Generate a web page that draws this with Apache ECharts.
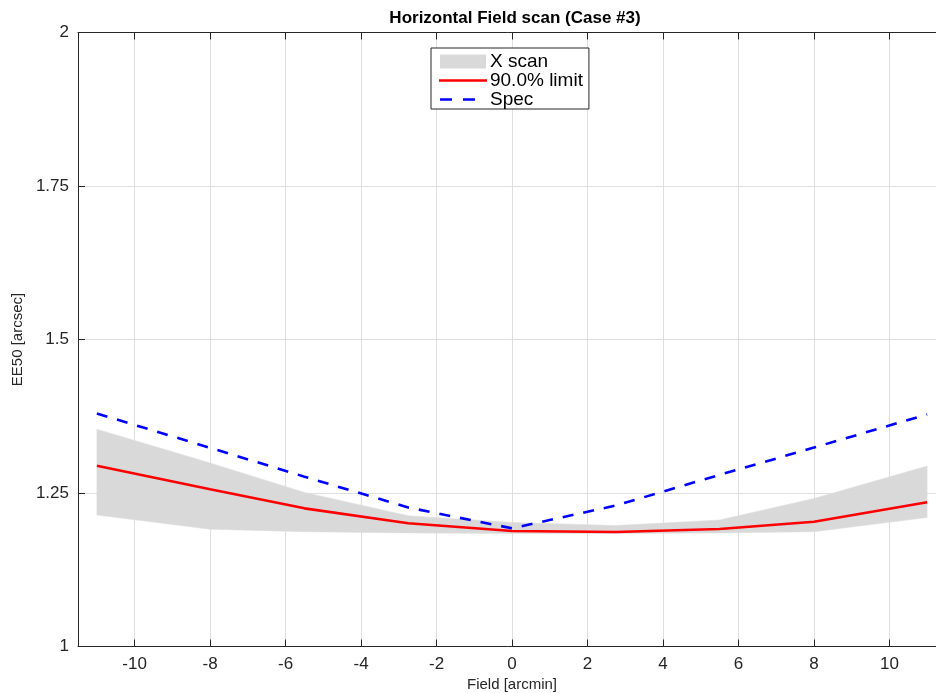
<!DOCTYPE html>
<html>
<head>
<meta charset="utf-8">
<script src="https://cdn.jsdelivr.net/npm/echarts@6/dist/echarts.min.js"></script>
<style>
  html, body { margin: 0; padding: 0; background: #fff; }
  #chart { width: 936px; height: 693px; }
</style>
</head>
<body>
<div id="chart"></div>
<script>
// field positions [arcmin]
const fieldX = [-11, -8, -5.5, -2.75, 0, 2.75, 5.5, 8, 11];
// EE50 values [arcsec]
const scanLow = [1.214, 1.191, 1.187, 1.185, 1.184, 1.184, 1.185, 1.187, 1.210];
const scanHigh = [1.354, 1.299, 1.251, 1.213, 1.202, 1.197, 1.206, 1.241, 1.294];
const limit90 = [1.2945, 1.256, 1.225, 1.2007, 1.188, 1.1865, 1.1914, 1.2033, 1.235];
const spec = [1.3795, 1.3236, 1.2766, 1.2264, 1.1925, 1.2296, 1.2795, 1.324, 1.378];
const xTicks = [-10, -8, -6, -4, -2, 0, 2, 4, 6, 8, 10];

const font = "'Liberation Sans', Arial, Helvetica, sans-serif";
const ink = '#262626';
const gridColor = '#dedede';

// legend glyphs: a thin bar (solid / dashed) inside a 48x14 box
const solidIcon = 'path://M0,0h0.01v0.01h-0.01z M0,5.7H48V8.3H0Z M0,14h0.01v0.01h-0.01z';
const dashIcon = 'path://M0,0h0.01v0.01h-0.01z M1,5.7H13V8.3H1Z M24,5.7H36V8.3H24Z M0,14h0.01v0.01h-0.01z M48,14h0.01v0.01h-0.01z';

const pairs = (ys) => fieldX.map((x, i) => [x, ys[i]]);

let chart = echarts.init(document.getElementById('chart'));

// shaded band between scanLow and scanHigh, drawn as one polygon
const renderBand = (params, api) => {
  if (params.dataIndex !== 0) return;
  let pts = [];
  fieldX.forEach((x, i) => pts.push(api.coord([x, scanHigh[i]])));
  for (let i = fieldX.length - 1; i >= 0; i--) {
    pts.push(api.coord([fieldX[i], scanLow[i]]));
  }
  return {
    type: 'polygon',
    shape: { points: pts },
    style: { fill: '#d9d9d9', stroke: '#dcdcdc', lineWidth: 0.5 }
  };
};

let option = {
  animation: false,
  textStyle: { fontFamily: font },
  title: {
    text: 'Horizontal Field scan (Case #3)',
    left: 510,
    textAlign: 'center',
    top: 5,
    textStyle: { fontSize: 17, fontWeight: 'bold', color: '#000', fontFamily: font }
  },
  legend: {
    orient: 'vertical',
    left: 431,
    top: 48,
    padding: [4, 6, 0, 8],
    itemGap: 0,
    itemWidth: 48,
    itemHeight: 14,
    backgroundColor: '#fff',
    borderColor: '#262626',
    borderWidth: 1,
    borderRadius: 0,
    textStyle: { fontSize: 19, color: '#000', fontFamily: font, lineHeight: 19, padding: [0, 0, 0, -2] },
    data: [
      { name: 'X scan', icon: 'path://M1,0H47V14H1Z', itemStyle: { color: '#d9d9d9' } },
      { name: '90.0% limit', icon: solidIcon, itemStyle: { color: '#ff0000' } },
      { name: 'Spec', icon: dashIcon, itemStyle: { color: '#0000ff' } }
    ]
  },
  grid: {
    left: 78,
    right: -10,
    top: 32.5,
    bottom: 46.5,
    outerBoundsMode: 'none'
  },
  xAxis: [{
    type: 'value',
    min: -11.5,
    max: 11.5,
    name: 'Field [arcmin]',
    nameLocation: 'middle',
    nameGap: 27,
    nameTextStyle: { fontSize: 15, color: ink, fontFamily: font },
    axisLine: { onZero: false, lineStyle: { color: ink, width: 1 } },
    axisTick: { inside: true, length: 7, customValues: xTicks, lineStyle: { color: ink } },
    axisLabel: { customValues: xTicks, fontSize: 17, color: ink, margin: 9, fontFamily: font },
    splitLine: { show: true, lineStyle: { color: gridColor, width: 1 } }
  }, {
    type: 'value',
    position: 'top',
    min: -11.5,
    max: 11.5,
    axisLine: { onZero: false, lineStyle: { color: ink, width: 1 } },
    axisTick: { inside: true, length: 7, customValues: xTicks, lineStyle: { color: ink } },
    axisLabel: { show: false },
    splitLine: { show: false }
  }],
  yAxis: {
    type: 'value',
    min: 1,
    max: 2,
    interval: 0.25,
    name: 'EE50 [arcsec]',
    nameLocation: 'middle',
    nameGap: 53,
    nameTextStyle: { fontSize: 15, color: ink, fontFamily: font },
    axisLine: { show: true, onZero: false, lineStyle: { color: ink, width: 1 } },
    axisTick: { show: true, inside: true, length: 7, lineStyle: { color: ink } },
    axisLabel: { fontSize: 17, color: ink, margin: 9, fontFamily: font },
    splitLine: { show: true, lineStyle: { color: gridColor, width: 1 } }
  },
  series: [
    {
      name: 'X scan',
      type: 'custom',
      renderItem: renderBand,
      data: pairs(scanHigh),
      color: '#d9d9d9',
      silent: true,
      clip: true,
      z: 1
    },
    {
      name: '90.0% limit',
      type: 'line',
      data: pairs(limit90),
      symbol: 'none',
      color: '#ff0000',
      lineStyle: { width: 2.6, color: '#ff0000' },
      z: 3
    },
    {
      name: 'Spec',
      type: 'line',
      data: pairs(spec),
      symbol: 'none',
      color: '#0000ff',
      lineStyle: { width: 2.6, color: '#0000ff', type: [11, 10] },
      z: 4
    }
  ]
};

chart.setOption(option);
</script>
</body>
</html>
